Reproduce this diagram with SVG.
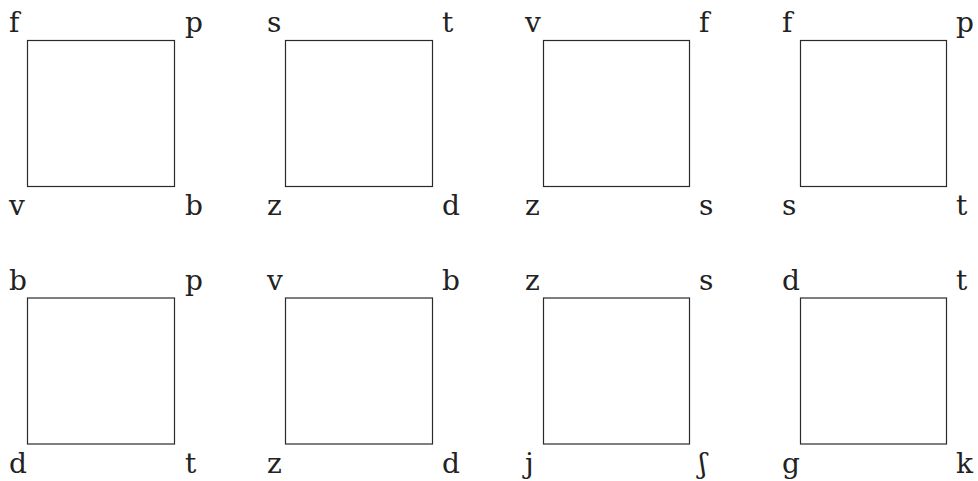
<svg xmlns="http://www.w3.org/2000/svg" width="978" height="481" viewBox="0 0 978 481">
<style>
.sq{fill:#fff;stroke:#2a2a2a;stroke-width:1.2}
.t{font-family:"DejaVu Serif","Liberation Serif",serif;font-size:28px;fill:#222}
</style>
<rect width="978" height="481" fill="#fff"/>
<g id="node1"><rect class="sq" x="27.5" y="40.5" width="147" height="146"/>
<text class="t" x="9" y="32">f</text><text class="t" x="185" y="32">p</text><text class="t" x="9" y="215">v</text><text class="t" x="185" y="215">b</text></g>
<g id="node2"><rect class="sq" x="285.5" y="40.5" width="147" height="146"/>
<text class="t" x="267" y="32">s</text><text class="t" x="442" y="32">t</text><text class="t" x="267" y="215">z</text><text class="t" x="442" y="215">d</text></g>
<g id="node3"><rect class="sq" x="543.5" y="40.5" width="146" height="146"/>
<text class="t" x="525" y="32">v</text><text class="t" x="699" y="32">f</text><text class="t" x="525" y="215">z</text><text class="t" x="699" y="215">s</text></g>
<g id="node4"><rect class="sq" x="800.5" y="40.5" width="146" height="146"/>
<text class="t" x="782" y="32">f</text><text class="t" x="956" y="32">p</text><text class="t" x="782" y="215">s</text><text class="t" x="956" y="215">t</text></g>
<g id="node5"><rect class="sq" x="27.5" y="298" width="147" height="146"/>
<text class="t" x="9" y="290">b</text><text class="t" x="185" y="290">p</text><text class="t" x="9" y="473">d</text><text class="t" x="185" y="473">t</text></g>
<g id="node6"><rect class="sq" x="285.5" y="298" width="147" height="146"/>
<text class="t" x="267" y="290">v</text><text class="t" x="442" y="290">b</text><text class="t" x="267" y="473">z</text><text class="t" x="442" y="473">d</text></g>
<g id="node7"><rect class="sq" x="543.5" y="298" width="146" height="146"/>
<text class="t" x="525" y="290">z</text><text class="t" x="699" y="290">s</text><text class="t" x="525" y="473">j</text><text class="t" x="699" y="473">ʃ</text></g>
<g id="node8"><rect class="sq" x="800.5" y="298" width="146" height="146"/>
<text class="t" x="782" y="290">d</text><text class="t" x="956" y="290">t</text><text class="t" x="782" y="473">g</text><text class="t" x="956" y="473">k</text></g>
<g id="connectors"></g>
</svg>
